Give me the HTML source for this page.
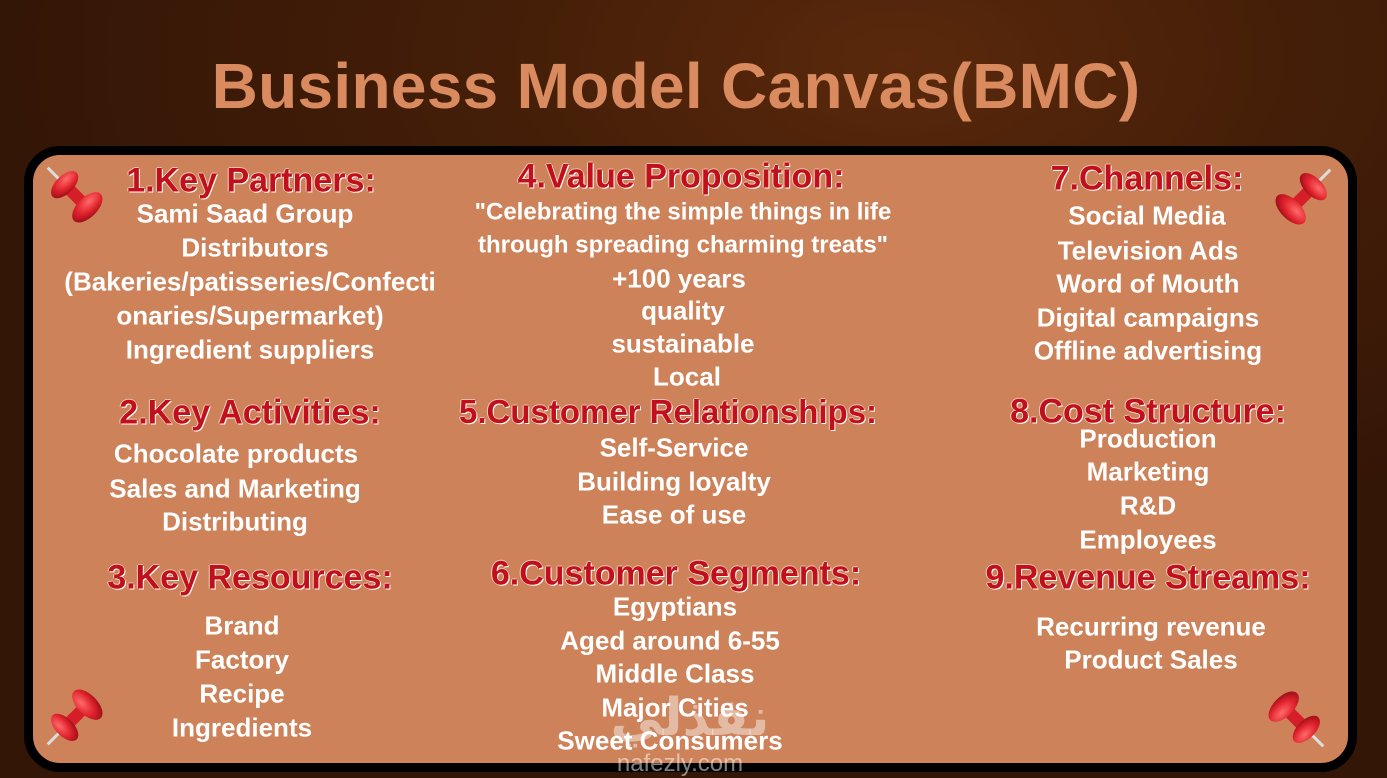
<!DOCTYPE html>
<html><head><meta charset="utf-8"><style>
html,body{margin:0;padding:0}
body{width:1387px;height:778px;overflow:hidden;position:relative;
background:radial-gradient(ellipse 900px 500px at 900px 60px,#5a290c 0%,#441e08 45%,#341606 100%);
font-family:"Liberation Sans",sans-serif;}
.title{position:absolute;left:676px;top:86px;transform:translate(-50%,-50%);white-space:nowrap;
font-size:64px;font-weight:bold;color:#d98a5e;letter-spacing:0.3px}
.board{position:absolute;left:24px;top:146px;width:1315px;height:608px;background:#cd8259;
border:9px solid #000;border-radius:36px}
.t{position:absolute;transform:translate(-50%,-50%);white-space:nowrap;font-weight:bold;line-height:1.2}
.h{font-size:34px;color:#c1101b;text-shadow:1px 1px 0 #fff,-1px 0 0 rgba(255,255,255,.6),0 -1px 0 rgba(255,255,255,.5)}
.b{font-size:26px;color:#fff}
.wm{position:absolute;transform:translate(-50%,-50%);white-space:nowrap;color:rgba(255,255,255,.45);font-weight:bold}
</style></head><body>
<div class="title">Business Model Canvas(BMC)</div>
<div class="board"></div>

<svg width="1387" height="778" style="position:absolute;left:0;top:0">
<defs>
<radialGradient id="g" cx="35%" cy="35%" r="70%"><stop offset="0" stop-color="#ff6b6b"/><stop offset=".6" stop-color="#e0222c"/><stop offset="1" stop-color="#a0101a"/></radialGradient>
<g id="pin">
<line x1="-40" y1="0" x2="-22" y2="0" stroke="#ddd" stroke-width="3"/>
<rect x="-14" y="-6" width="26" height="12" fill="#d61e28"/>
<ellipse cx="-16" cy="0" rx="9" ry="17" fill="url(#g)"/>
<ellipse cx="16" cy="0" rx="10" ry="19" fill="url(#g)"/>
</g>
</defs>
<use href="#pin" transform="translate(76 196) rotate(45)"/>
<use href="#pin" transform="translate(1302 198) rotate(135)"/>
<use href="#pin" transform="translate(76 716) rotate(-45)"/>
<use href="#pin" transform="translate(1295 718) rotate(-135)"/>
</svg>

<div class="t h" style="left:251px;top:181px">1.Key Partners:</div>
<div class="t b" style="left:245px;top:214px">Sami Saad Group</div>
<div class="t b" style="left:255px;top:248px">Distributors</div>
<div class="t b" style="left:250px;top:282px">(Bakeries/patisseries/Confecti</div>
<div class="t b" style="left:250px;top:316px">onaries/Supermarket)</div>
<div class="t b" style="left:250px;top:350px">Ingredient suppliers</div>
<div class="t h" style="left:250px;top:413px">2.Key Activities:</div>
<div class="t b" style="left:236px;top:454px">Chocolate products</div>
<div class="t b" style="left:235px;top:489px">Sales and Marketing</div>
<div class="t b" style="left:235px;top:522px">Distributing</div>
<div class="t h" style="left:250px;top:578px">3.Key Resources:</div>
<div class="t b" style="left:242px;top:626px">Brand</div>
<div class="t b" style="left:242px;top:660px">Factory</div>
<div class="t b" style="left:242px;top:694px">Recipe</div>
<div class="t b" style="left:242px;top:728px">Ingredients</div>

<div class="t h" style="left:681px;top:177px">4.Value Proposition:</div>
<div class="t b" style="left:683px;top:213px;font-size:24px">"Celebrating the simple things in life</div>
<div class="t b" style="left:683px;top:246px;font-size:24px">through spreading charming treats"</div>
<div class="t b" style="left:679px;top:279px">+100 years</div>
<div class="t b" style="left:683px;top:311px">quality</div>
<div class="t b" style="left:683px;top:344px">sustainable</div>
<div class="t b" style="left:687px;top:377px">Local</div>
<div class="t h" style="left:668px;top:412px;font-size:33px">5.Customer Relationships:</div>
<div class="t b" style="left:674px;top:448px">Self-Service</div>
<div class="t b" style="left:674px;top:482px">Building loyalty</div>
<div class="t b" style="left:674px;top:515px">Ease of use</div>
<div class="t h" style="left:676px;top:574px">6.Customer Segments:</div>
<div class="wm" style="left:690px;top:718px;font-size:52px;font-family:'DejaVu Sans',sans-serif">نفذلي</div>
<div class="t b" style="left:675px;top:607px">Egyptians</div>
<div class="t b" style="left:670px;top:641px">Aged around 6-55</div>
<div class="t b" style="left:675px;top:674px">Middle Class</div>
<div class="t b" style="left:675px;top:708px">Major Cities</div>
<div class="t b" style="left:670px;top:741px">Sweet Consumers</div>
<div class="wm" style="left:680px;top:764px;font-size:24px;font-weight:normal;color:rgba(255,255,255,.5)">nafezly.com</div>

<div class="t h" style="left:1147px;top:179px">7.Channels:</div>
<div class="t b" style="left:1147px;top:216px">Social Media</div>
<div class="t b" style="left:1148px;top:251px">Television Ads</div>
<div class="t b" style="left:1148px;top:284px">Word of Mouth</div>
<div class="t b" style="left:1148px;top:318px">Digital campaigns</div>
<div class="t b" style="left:1148px;top:351px">Offline advertising</div>
<div class="t h" style="left:1148px;top:412px">8.Cost Structure:</div>
<div class="t b" style="left:1148px;top:439px">Production</div>
<div class="t b" style="left:1148px;top:472px">Marketing</div>
<div class="t b" style="left:1148px;top:506px">R&amp;D</div>
<div class="t b" style="left:1148px;top:540px">Employees</div>
<div class="t h" style="left:1148px;top:578px">9.Revenue Streams:</div>
<div class="t b" style="left:1151px;top:627px">Recurring revenue</div>
<div class="t b" style="left:1151px;top:660px">Product Sales</div>
</body></html>
